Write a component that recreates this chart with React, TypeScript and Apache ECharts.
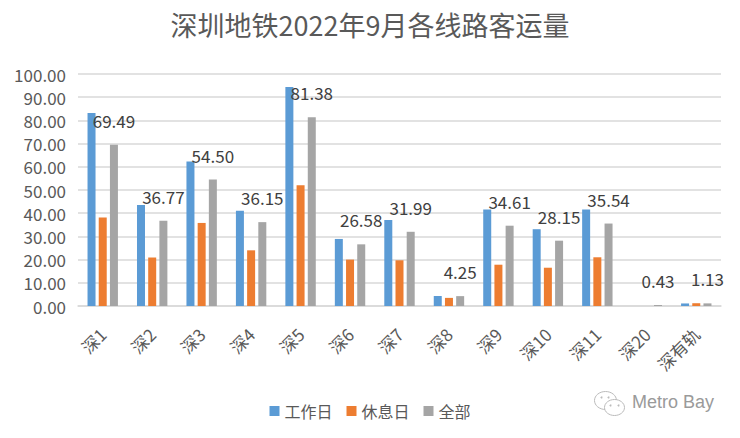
import React, { useRef, useEffect } from 'react'
import * as echarts from 'echarts'

const LINES = ['深1', '深2', '深3', '深4', '深5', '深6', '深7', '深8', '深9', '深10', '深11', '深20', '深有轨']
const WORKDAY = [83.2, 43.5, 62.3, 41.1, 94.4, 28.9, 37.1, 4.3, 41.6, 33.1, 41.6, 0, 1.1]
const HOLIDAY = [38.1, 20.9, 35.8, 24.0, 52.1, 20.0, 19.7, 3.5, 17.8, 16.5, 21.0, 0, 1.2]
const ALL = [69.49, 36.77, 54.5, 36.15, 81.38, 26.58, 31.99, 4.25, 34.61, 28.15, 35.54, 0.43, 1.13]
const SERIES_NAMES = ['工作日', '休息日', '全部']
const COLORS = ['#5b9bd5', '#ed7d31', '#a5a5a5']

const FONT = '"Noto Sans CJK SC", "Noto Sans", sans-serif'

export default function App() {
  const chartRef = useRef<HTMLDivElement>(null)

  useEffect(() => {
    document.body.style.margin = '0'
    if (!chartRef.current) return
    const chart = echarts.init(chartRef.current, null, { renderer: 'svg' })

    const bar = (i: number, data: number[]) => ({
      name: SERIES_NAMES[i],
      type: 'bar',
      data,
      barWidth: 8,
      barGap: '40%',
      itemStyle: { color: COLORS[i] },
    })

    chart.setOption({
      animation: false,
      backgroundColor: '#ffffff',
      textStyle: { fontFamily: FONT },
      title: {
        text: '深圳地铁2022年9月各线路客运量',
        left: 'center',
        top: 6,
        textStyle: {
          fontFamily: FONT,
          fontSize: 27,
          fontWeight: 'normal',
          color: '#595959',
        },
      },
      legend: {
        bottom: 14,
        left: 'center',
        icon: 'rect',
        itemWidth: 10,
        itemHeight: 10,
        itemGap: 14,
        textStyle: { fontSize: 16, color: '#595959', fontFamily: FONT },
        data: SERIES_NAMES,
      },
      grid: { left: 78, right: 19, top: 74, bottom: 132 },
      xAxis: {
        type: 'category',
        data: LINES,
        axisTick: { show: false },
        axisLine: { lineStyle: { color: '#d9d9d9', width: 1.5 } },
        axisLabel: {
          rotate: 45,
          interval: 0,
          margin: 25,
          fontSize: 17,
          color: '#595959',
          fontFamily: FONT,
        },
      },
      yAxis: {
        type: 'value',
        min: 0,
        max: 100,
        interval: 10,
        axisLine: { show: false },
        axisTick: { show: false },
        splitLine: { lineStyle: { color: '#d9d9d9', width: 1.5 } },
        axisLabel: {
          fontSize: 17,
          color: '#595959',
          margin: 12,
          fontFamily: FONT,
          formatter: (v: number) => v.toFixed(2),
        },
      },
      series: [
        bar(0, WORKDAY),
        bar(1, HOLIDAY),
        {
          ...bar(2, ALL),
          label: {
            show: true,
            position: 'top',
            distance: 16,
            fontSize: 17,
            color: '#404040',
            fontFamily: FONT,
            formatter: (p: any) => Number(p.value).toFixed(2),
          },
        },
      ],
      graphic: [
        {
          type: 'group',
          left: 592,
          top: 389,
          children: [
            {
              type: 'ellipse',
              shape: { cx: 11, cy: 11, rx: 11, ry: 9 },
              style: { fill: 'none', stroke: '#bbbbbb', lineWidth: 1 },
            },
            {
              type: 'ellipse',
              shape: { cx: 20, cy: 18, rx: 10, ry: 8 },
              style: { fill: '#ffffff', stroke: '#bbbbbb', lineWidth: 1 },
            },
            { type: 'circle', shape: { cx: 16, cy: 16, r: 1 }, style: { fill: '#bbbbbb' } },
            { type: 'circle', shape: { cx: 24, cy: 16, r: 1 }, style: { fill: '#bbbbbb' } },
            { type: 'circle', shape: { cx: 7, cy: 8, r: 1 }, style: { fill: '#bbbbbb' } },
            { type: 'circle', shape: { cx: 14, cy: 8, r: 1 }, style: { fill: '#bbbbbb' } },
          ],
        },
        {
          type: 'text',
          left: 632,
          top: 393,
          style: {
            text: 'Metro Bay',
            fill: '#9a9a9a',
            font: `18px "Liberation Sans", sans-serif`,
          },
        },
      ],
    })

    return () => chart.dispose()
  }, [])

  return <div ref={chartRef} style={{ width: 740, height: 438 }} />
}
